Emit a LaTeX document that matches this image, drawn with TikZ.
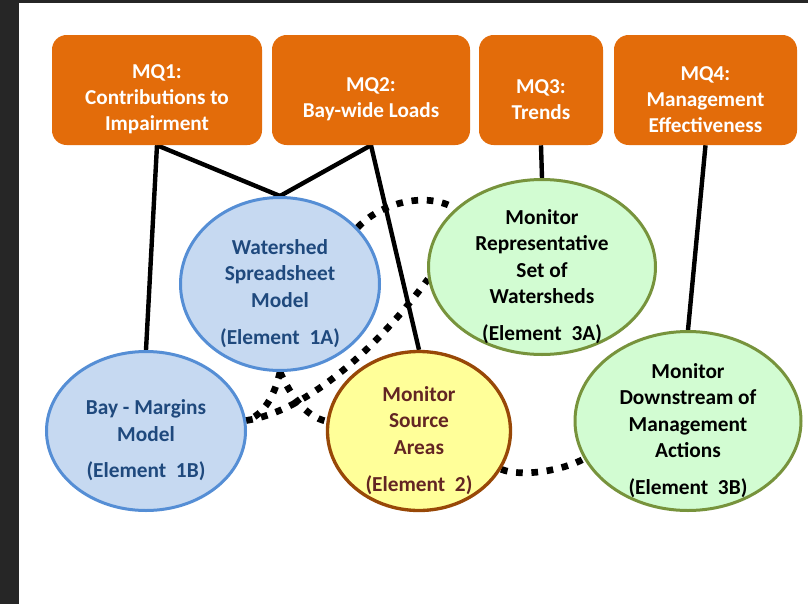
\documentclass[tikz,border=0pt]{standalone}
\usepackage{fontspec}
\setmainfont{Carlito}
\usetikzlibrary{shapes.geometric}

\definecolor{framegrey}{RGB}{38,38,38}
\definecolor{mqorange}{RGB}{227,108,10}
\definecolor{modelfill}{RGB}{198,217,241}
\definecolor{modeledge}{RGB}{85,142,213}
\definecolor{modeltext}{RGB}{31,73,125}
\definecolor{srcfill}{RGB}{255,255,153}
\definecolor{srcedge}{RGB}{152,72,7}
\definecolor{srctext}{RGB}{99,37,35}
\definecolor{monfill}{RGB}{210,252,210}
\definecolor{monedge}{RGB}{119,147,60}

\pgfdeclarelayer{back}
\pgfdeclarelayer{links}
\pgfsetlayers{back,links,main}

\begin{document}
\begin{tikzpicture}[x=0.75pt,y=-0.75pt,
  mqbox/.style={fill=mqorange, rounded corners=11pt, minimum height=82.5pt, inner sep=0pt},
  lbl/.style={font=\fontsize{16}{19.9}\selectfont\bfseries, align=center, inner sep=0pt, yshift=-7pt},
  mqtext/.style={lbl, text=white, font=\fontsize{15.9}{19.5}\selectfont\bfseries},
  ell/.style={ellipse, inner sep=0pt, line width=2.25pt},
  model/.style={ell, draw=modeledge, fill=modelfill},
  source/.style={ell, draw=srcedge, fill=srcfill, line width=2.5pt},
  monitor/.style={ell, draw=monedge, fill=monfill},
  link/.style={line width=3.3pt},
  loose/.style={line width=5pt, dash pattern=on 5pt off 6.5pt},
]
\useasboundingbox (0,0) rectangle (808,604);

% management questions
\node[mqbox, minimum width=157.5pt] (mq1) at (157,90) {};
\node[mqtext] (mq1t) at (mq1) {MQ1:\\Contributions to\\Impairment};
\node[mqbox, minimum width=148.5pt] (mq2) at (371,90) {};
\node[mqtext] (mq2t) at (mq2) {MQ2:\\Bay-wide Loads};
\node[mqbox, minimum width=93pt] (mq3) at (541,90) {};
\node[mqtext] (mq3t) at (mq3) {MQ3:\\Trends};
\node[mqbox, minimum width=137.25pt] (mq4) at (705.5,90) {};
\node[mqtext] (mq4t) at (mq4) {MQ4:\\Management\\Effectiveness};

% program elements
\node[model, minimum width=149.25pt, minimum height=129.75pt] (wsm) at (280,284) {};
\node[lbl, text=modeltext] (wsmt) at (wsm) {Watershed\\Spreadsheet\\Model\\[7.5pt](Element~~1A)};
\node[model, minimum width=149.25pt, minimum height=119.25pt] (bmm) at (146,431) {};
\node[lbl, text=modeltext] (bmmt) at (bmm) {Bay - Margins\\Model\\[7.5pt](Element~~1B)};
\node[source, minimum width=137.25pt, minimum height=119.25pt] (msa) at (419,431) {};
\node[lbl, text=srctext] (msat) at (msa) {Monitor\\Source\\Areas\\[7.5pt](Element~~2)};
\node[monitor, minimum width=170.25pt, minimum height=131.25pt] (mrs) at (542,267) {};
\node[lbl] (mrst) at (mrs) {Monitor\\Representative\\Set of\\Watersheds\\[7.5pt](Element~~3A)};
\node[monitor, minimum width=169.5pt, minimum height=134.25pt] (mdm) at (688,421) {};
\node[lbl] (mdmt) at (mdm) {Monitor\\Downstream of\\Management\\Actions\\[7.5pt](Element~~3B)};

\begin{pgfonlayer}{back}
  \fill[white] (0,0) rectangle (808,604);
  \fill[framegrey] (0,0) rectangle (19,604);
  \fill[framegrey] (0,0) rectangle (808,3);
\end{pgfonlayer}

\begin{pgfonlayer}{links}
  % loose (dotted) relations between elements
  \draw[loose] (wsm.36) .. controls +(22,-24) and +(-30,-18) .. (mrs.146);
  \draw[loose] (wsm.south) .. controls +(-5,22) and +(18,-5) .. (bmm.6);
  \draw[loose] (wsm.south) .. controls +(10,22) and +(-22,-5) .. (msa.174);
  \draw[loose] (bmm.6) .. controls +(65,-10) and +(-44.5,61) .. (mrs.186);
  \draw[loose] (msa.335) .. controls +(20,8) and +(-22,12) .. (mdm.200);
  % questions answered by each element
  \draw[link] (mq1.south) -- (bmm.north);
  \draw[link] (mq1.south) -- (wsm.north);
  \draw[link] (mq2.south) -- (wsm.north);
  \draw[link] (mq2.south) -- (msa.north);
  \draw[link] (mq3.south) -- (mrs.north);
  \draw[link] (mq4.south) -- (mdm.north);
\end{pgfonlayer}
\end{tikzpicture}
\end{document}
